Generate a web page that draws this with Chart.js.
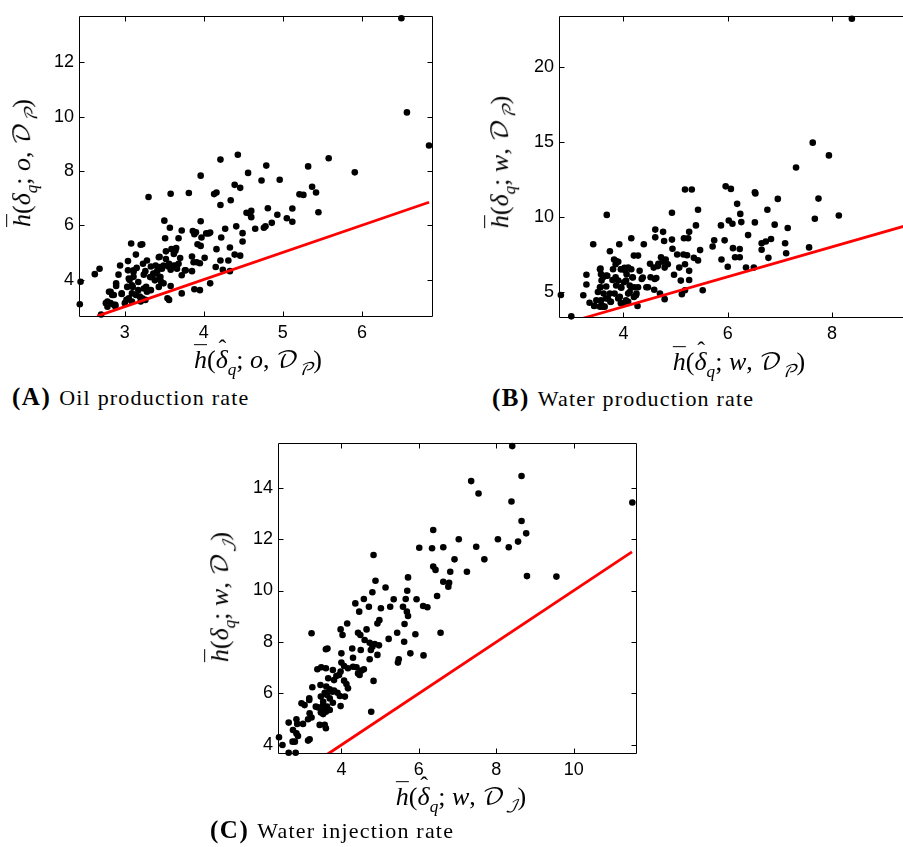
<!DOCTYPE html>
<html>
<head>
<meta charset="utf-8">
<script src="https://cdn.jsdelivr.net/npm/chart.js@4/dist/chart.umd.min.js"></script>
<style>
html,body{margin:0;padding:0;background:#fff;}
body{width:903px;height:847px;position:relative;overflow:hidden;}
canvas{position:absolute;}
.mt{position:absolute;font-family:"Liberation Serif","DejaVu Serif",serif;font-size:26px;white-space:nowrap;line-height:1;color:#000;}
.mt i,.ov{font-style:italic;}
.ov{text-decoration:overline;text-decoration-thickness:1px;}
.mt sub{font-size:0.66em;font-style:italic;vertical-align:-0.38em;}
.hat{position:relative;display:inline-block;font-style:italic;}
.hat > span{position:absolute;left:0.12em;top:-0.42em;font-style:normal;font-size:0.9em;}
.cal{font-family:"DejaVu Math TeX Gyre","DejaVu Serif","DejaVu Sans",serif;font-style:normal;font-size:0.95em;}
.xt{transform:translate(-50%,-50%);}
.yt{transform:translate(-50%,-50%) rotate(-90deg);}
.cap{position:absolute;font-family:"Liberation Serif","DejaVu Serif",serif;font-size:25px;line-height:25px;white-space:nowrap;color:#000;}
.cap b{font-size:25px;letter-spacing:1.5px;}
.cap span{font-size:22px;letter-spacing:1.2px;margin-left:8px;}
</style>
</head>
<body>
<canvas id="cA" width="450" height="345" style="left:0;top:0"></canvas>
<canvas id="cB" width="470" height="345" style="left:450px;top:0"></canvas>
<canvas id="cC" width="470" height="360" style="left:190px;top:420px"></canvas>

<div class="mt xt" style="left:258px;top:363px"><span class="ov">h</span>(<span class="hat">δ<span>ˆ</span></span><sub>q</sub>; <i>o</i>, <span class="cal">𝒟</span><sub class="cal">𝒫</sub>)</div>
<div class="mt yt" style="left:25px;top:163px"><span class="ov">h</span>(<i>δ</i><sub>q</sub>; <i>o</i>, <span class="cal">𝒟</span><sub class="cal">𝒫</sub>)</div>
<div class="cap" style="left:12px;top:384px"><b>(A)</b><span>Oil production rate</span></div>

<div class="mt xt" style="left:739px;top:365px"><span class="ov">h</span>(<span class="hat">δ<span>ˆ</span></span><sub>q</sub>; <i>w</i>, <span class="cal">𝒟</span><sub class="cal">𝒫</sub>)</div>
<div class="mt yt" style="left:503px;top:162px"><span class="ov">h</span>(<i>δ</i><sub>q</sub>; <i>w</i>, <span class="cal">𝒟</span><sub class="cal">𝒫</sub>)</div>
<div class="cap" style="left:492px;top:385px"><b>(B)</b><span>Water production rate</span></div>

<div class="mt xt" style="left:461px;top:800px"><span class="ov">h</span>(<span class="hat">δ<span>ˆ</span></span><sub>q</sub>; <i>w</i>, <span class="cal">𝒟</span><sub class="cal">ℐ</sub>)</div>
<div class="mt yt" style="left:223px;top:597px"><span class="ov">h</span>(<i>δ</i><sub>q</sub>; <i>w</i>, <span class="cal">𝒟</span><sub class="cal">ℐ</sub>)</div>
<div class="cap" style="left:210px;top:817px"><b>(C)</b><span>Water injection rate</span></div>

<script>
// ---- Panel A: oil production rate ----
const oilX = [6.50,6.57,6.85,2.44,2.43,2.68,2.62,3.30,3.58,3.81,3.96,4.13,4.16,4.21,4.43,4.21,4.34,4.39,4.46,4.56,4.73,4.79,4.96,5.32,5.58,5.91,5.21,5.26,5.37,5.42,5.45,5.12,5.12,5.05,4.93,4.86,4.81,4.76,4.78,4.65,4.60,4.57,4.60,4.54,4.49,4.49,4.46,4.39,4.41,4.33,4.31,4.33,4.27,4.22,4.16,4.21,4.24,4.15,4.08,4.01,4.06,4.08,4.03,3.96,3.97,3.92,3.96,3.86,3.88,3.90,3.95,3.91,3.87,3.85,3.88,3.95,3.85,3.77,3.72,3.68,3.65,3.70,3.72,3.72,3.57,3.50,3.51,3.52,3.59,3.62,3.56,3.62,3.65,3.58,3.58,3.56,3.54,3.49,3.44,3.43,3.44,3.46,3.41,3.39,3.34,3.38,3.28,3.26,3.24,3.33,3.27,3.17,3.22,3.20,3.23,3.20,3.22,3.08,3.14,3.04,3.11,3.15,3.11,3.06,3.09,3.03,3.09,3.14,3.05,3.02,3.00,3.09,2.94,2.92,2.89,2.89,2.96,2.86,2.80,2.78,2.76,2.82,2.86,2.88,2.78,2.70,
3.04,3.11,3.05,3.10,3.17,3.24,3.28,3.19,3.26,3.32,3.36,3.43,3.49,3.45,3.38,2.82,2.84,2.77,2.88,2.96,3.55,3.62,3.68,3.66,3.47,3.33,3.52,3.44,3.64,3.76];
const oilY = [13.63,10.16,8.94,3.92,3.09,4.40,4.20,7.04,7.16,7.19,7.83,7.15,7.21,8.42,8.60,6.75,6.92,7.49,7.38,7.93,7.65,8.20,7.68,8.17,8.47,7.95,7.14,7.12,7.42,7.21,6.48,6.62,6.13,6.26,6.39,6.09,6.63,5.91,5.96,5.87,6.30,6.44,6.53,6.46,5.71,5.40,4.88,4.92,5.96,5.18,4.70,4.31,5.87,5.55,5.12,4.70,4.36,4.46,3.86,4.80,5.70,5.73,5.70,6.15,5.55,5.30,5.24,5.79,5.67,5.74,4.60,4.64,4.64,4.85,3.64,3.61,4.31,4.34,5.81,5.52,5.16,4.79,4.16,3.49,5.91,6.17,5.52,5.04,5.12,4.94,4.58,4.52,4.52,4.36,3.76,3.25,3.31,4.52,4.46,4.82,4.10,3.92,4.31,4.52,4.10,4.22,4.70,4.31,4.18,3.61,3.73,3.61,3.31,3.19,4.58,5.28,5.30,5.33,4.92,4.68,4.34,4.43,4.10,3.98,3.79,3.73,3.49,3.43,3.31,3.25,3.13,3.19,4.52,4.18,3.86,3.76,3.49,3.43,3.55,3.19,3.13,3.13,3.07,3.01,3.00,2.71,
4.34,4.28,4.04,3.73,3.91,3.67,3.55,3.37,3.25,4.09,4.22,3.73,3.86,4.09,3.97,3.55,3.43,3.13,3.07,3.47,4.48,4.48,4.58,4.40,4.40,4.48,4.76,4.84,5.06,4.34];
const oilLine = [2.65, 6.85];
const oilXRange = [2.42, 6.90];
const oilYRange = [2.62, 13.72];
const oilXTicks = [3, 4, 5, 6];
const oilYTicks = [4, 6, 8, 10, 12];

// ---- Panel B: water production rate ----
const wprX = [8.38,7.63,7.94,7.31,7.74,7.67,8.13,7.56,6.96,7.15,7.10,7.12,6.90,6.76,6.83,6.78,6.73,6.65,6.65,6.52,6.53,6.52,6.39,6.35,6.50,6.26,6.24,6.18,6.23,6.23,6.14,6.10,6.09,6.02,6.06,5.96,5.87,5.94,5.88,6.00,5.74,5.71,5.52,5.47,5.43,5.43,5.39,5.35,5.31,5.18,5.26,5.24,5.16,5.22,5.15,5.18,5.26,5.26,5.10,5.12,5.18,5.07,5.03,4.97,4.94,4.93,4.93,4.76,4.78,4.81,4.72,4.76,4.79,4.61,4.61,4.67,4.58,4.51,4.63,4.52,4.70,4.79,4.59,4.44,4.39,4.28,4.20,4.15,4.35,4.28,4.17,4.15,4.25,4.20,4.27,4.09,4.01,4.06,4.09,4.15,4.03,3.96,3.90,3.82,3.85,3.80,3.92,3.74,3.68,3.42,3.85,3.90,3.96,3.93,3.90,3.99,4.09,3.83,3.74,3.75,3.62,3.67,3.58,3.64,3.61,3.67,3.55,3.58,3.55,3.51,3.48,3.55,3.44,3.35,3.29,3.29,3.23,3.00,2.80,
3.56,3.57,3.69,3.79,3.56,3.67,3.86,3.95,4.05,4.12,4.21,4.12,4.24,4.05,3.70,3.57,3.76,3.44,3.60,3.95,4.47,4.60,4.66,4.75,4.85,4.37,4.31,4.18,3.95,3.86,4.02];
const wprY = [23.24,14.96,14.11,13.30,11.22,9.87,10.09,7.96,11.20,9.26,8.24,7.57,9.48,10.48,8.52,7.26,8.35,8.24,7.80,11.65,11.57,9.63,8.78,6.61,6.61,9.65,10.20,10.87,7.85,7.30,7.30,7.91,9.54,9.76,11.87,12.04,9.43,8.43,7.15,6.67,8.43,8.02,5.09,7.78,7.09,10.48,9.43,7.26,11.83,11.83,9.00,8.57,8.57,7.43,7.48,6.83,6.39,5.78,5.74,4.83,5.09,6.61,7.48,6.13,7.87,8.48,10.28,9.00,8.39,7.15,7.30,7.00,6.61,9.15,8.63,6.87,6.61,6.87,5.91,5.96,4.87,4.50,5.13,5.30,8.17,7.41,7.41,8.57,5.85,5.30,5.96,5.30,4.87,4.65,4.04,4.87,5.63,6.17,6.61,6.50,6.43,6.50,7.00,7.15,6.83,6.50,8.17,7.70,10.13,8.17,5.96,5.74,5.26,4.65,4.54,4.22,4.33,4.87,4.87,4.33,4.87,4.54,4.11,4.00,5.96,6.07,6.50,5.74,5.30,4.98,4.43,4.00,4.04,4.26,6.13,5.48,4.76,3.35,4.78,
6.54,6.17,6.06,5.78,5.30,5.35,5.41,5.30,5.74,5.41,5.30,4.97,4.76,4.43,4.54,4.43,4.32,4.06,4.00,4.22,5.30,5.85,6.71,7.15,6.83,5.95,6.39,5.95,6.50,7.04,6.60];
const wprLine = [3.19, 9.6];
const wprXRange = [2.764, 9.495];
const wprYRange = [3.24, 23.44];
const wprXTicks = [4, 6, 8];
const wprYTicks = [5, 10, 15, 20];

// ---- Panel C: water injection rate ----
const winX = [8.41,8.65,7.35,7.54,8.39,11.51,8.65,6.37,8.77,7.03,8.04,8.56,8.32,7.48,6.01,6.34,6.63,4.83,6.92,7.69,6.37,6.43,7.24,6.81,8.79,9.55,5.72,6.63,6.78,6.76,4.88,5.14,6.47,4.80,5.70,4.58,4.36,5.35,5.66,5.94,6.11,6.22,5.26,5.59,4.71,5.02,4.46,5.69,5.72,4.98,4.93,5.63,4.15,3.23,3.98,4.03,4.43,4.49,4.65,5.44,5.91,6.56,5.22,4.60,4.73,4.86,5.62,4.97,4.28,4.50,4.76,4.80,3.60,3.64,4.00,4.93,5.78,6.12,5.48,5.46,4.73,4.30,4.00,4.07,4.17,4.30,4.39,4.58,4.52,4.43,4.47,3.38,3.48,3.60,3.78,3.98,3.94,3.87,3.81,3.66,4.83,4.07,4.13,4.17,3.25,3.46,3.61,3.70,3.77,3.81,3.57,3.63,3.90,3.96,4.09,3.47,3.17,3.17,3.70,3.53,3.53,3.78,2.97,3.05,3.34,3.40,3.63,3.55,3.60,3.47,3.53,3.70,4.77,3.18,3.23,3.14,3.01,2.84,2.86,2.64,2.75,2.84,2.88,2.74,2.80,3.44,3.57,3.60,3.18,3.14,2.39,2.48,2.64,2.82,3.98];
const winY = [15.61,14.45,14.25,13.77,13.46,13.42,12.70,12.35,12.22,11.99,11.99,11.90,11.68,11.70,11.66,11.64,11.68,11.38,11.21,11.21,10.93,10.80,10.73,10.73,10.56,10.54,10.51,10.34,10.30,10.15,10.38,10.12,9.79,9.93,9.99,9.67,9.50,9.66,9.67,9.66,9.40,9.35,9.37,9.37,9.37,9.31,9.18,9.18,9.01,8.85,8.72,8.70,8.72,8.34,8.49,8.27,8.36,8.27,8.49,8.36,8.30,8.36,8.12,8.08,7.97,7.92,8.01,7.87,7.75,7.69,7.69,7.82,7.72,7.75,7.56,7.50,7.56,7.48,7.33,7.20,7.33,7.39,7.20,7.07,6.98,7.04,7.02,6.94,6.89,6.78,6.72,6.94,7.02,6.98,6.91,6.85,6.72,6.68,6.52,6.59,6.49,6.50,6.37,6.20,6.24,6.33,6.27,6.16,6.07,6.11,6.03,5.94,6.03,5.90,5.88,5.88,5.81,5.75,5.81,5.68,5.55,5.64,5.62,5.55,5.49,5.46,5.49,5.36,5.29,5.26,5.20,5.36,5.29,5.23,5.07,5.00,4.82,5.00,4.82,4.87,4.58,4.45,4.35,4.13,4.13,4.78,4.78,4.65,4.22,4.17,4.30,4.00,3.70,3.70,5.51];
const winLine = [3.63, 11.5];
const winXRange = [2.364, 11.63];
const winYRange = [3.65, 15.73];
const winXTicks = [4, 6, 8, 10];
const winYTicks = [4, 6, 8, 10, 12, 14];

const TICK_FONT = {family: '"Liberation Sans", Arial, Helvetica, sans-serif', size: 18};

const frameTicks = {
  id: 'frameTicks',
  afterDraw(chart) {
    const ctx = chart.ctx, a = chart.chartArea;
    const xs = chart.scales.x, ys = chart.scales.y;
    const L = Math.round(a.left) + 0.5, R = Math.round(a.right) - 0.5;
    const T = Math.round(a.top) + 0.5, B = Math.round(a.bottom) - 0.5;
    ctx.save();
    ctx.strokeStyle = '#000';
    ctx.lineWidth = 1;
    ctx.beginPath();
    ctx.rect(L, T, R - L, B - T);
    const tl = 5;
    xs.ticks.forEach(t => {
      const p = Math.round(xs.getPixelForValue(t.value)) + 0.5;
      ctx.moveTo(p, B); ctx.lineTo(p, B - tl);
      ctx.moveTo(p, T); ctx.lineTo(p, T + tl);
    });
    ys.ticks.forEach(t => {
      const p = Math.round(ys.getPixelForValue(t.value)) + 0.5;
      ctx.moveTo(L, p); ctx.lineTo(L + tl, p);
      ctx.moveTo(R, p); ctx.lineTo(R - tl, p);
    });
    ctx.stroke();
    ctx.restore();
  }
};

function makePanel(id, xs, ys, line, xr, yr, xt, yt, geom) {
  const pts = xs.map((x, i) => ({x: x, y: ys[i]}));
  const lineData = line.map(v => ({x: v, y: v}));
  return new Chart(document.getElementById(id), {
    type: 'scatter',
    data: {
      datasets: [
        {type: 'line', data: lineData, borderColor: '#ff0000', borderWidth: 2.8,
         pointRadius: 0, fill: false, order: 0},
        {data: pts, backgroundColor: '#000', borderColor: '#000', borderWidth: 0,
         pointRadius: 3.3, order: 1, clip: false}
      ]
    },
    plugins: [frameTicks],
    options: {
      responsive: false,
      animation: false,
      devicePixelRatio: 1,
      events: [],
      layout: {padding: {left: 0, top: geom.top, right: geom.right, bottom: 0}},
      plugins: {legend: {display: false}, tooltip: {enabled: false}},
      scales: {
        x: {
          type: 'linear', min: xr[0], max: xr[1],
          grid: {display: false, drawTicks: false},
          border: {display: false},
          ticks: {font: TICK_FONT, color: '#000', padding: 5, autoSkip: false, maxRotation: 0,
                  callback: v => String(v)},
          afterBuildTicks: s => { s.ticks = xt.map(v => ({value: v})); },
          afterFit: s => { s.height = geom.xh; }
        },
        y: {
          type: 'linear', min: yr[0], max: yr[1],
          grid: {display: false, drawTicks: false},
          border: {display: false},
          ticks: {font: TICK_FONT, color: '#000', padding: 5, autoSkip: false,
                  callback: v => String(v)},
          afterBuildTicks: s => { s.ticks = yt.map(v => ({value: v})); },
          afterFit: s => { s.width = geom.yw; }
        }
      }
    }
  });
}

makePanel('cA', oilX, oilY, oilLine, oilXRange, oilYRange, oilXTicks, oilYTicks,
  {top: 11, right: 17, xh: 28, yw: 79});
makePanel('cB', wprX, wprY, wprLine, wprXRange, wprYRange, wprXTicks, wprYTicks,
  {top: 9, right: 10, xh: 27, yw: 109});
makePanel('cC', winX, winY, winLine, winXRange, winYRange, winXTicks, winYTicks,
  {top: 23, right: 23, xh: 26, yw: 88});
</script>
</body>
</html>
